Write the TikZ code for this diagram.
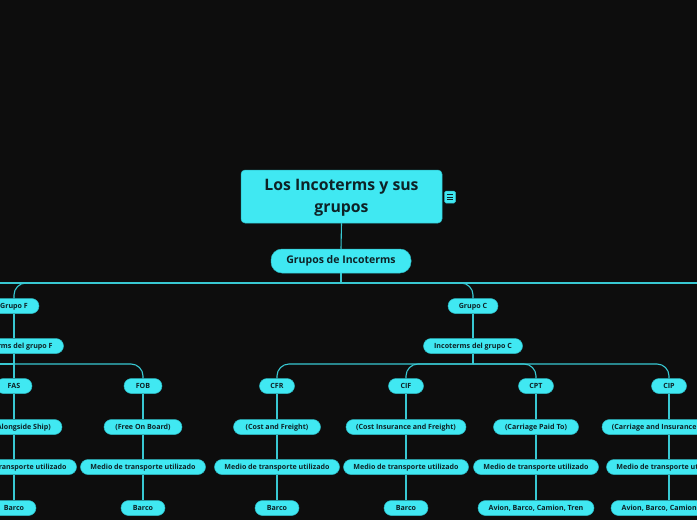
\documentclass[tikz,border=0pt]{standalone}
\usepackage{fontspec}
\setmainfont{Open Sans}
\definecolor{bg}{HTML}{0D0D0D}
\definecolor{nodefill}{HTML}{40E8F2}
\definecolor{nodeedge}{HTML}{2CB8C2}
\definecolor{conncol}{HTML}{38C8D2}
\definecolor{txt}{HTML}{0E2226}
\tikzset{
  box/.style={draw=nodeedge, line width=0.5pt, fill=nodefill, text=txt,
    font=\bfseries\fontsize{7.1}{8}\selectfont, rounded corners=7.5pt,
    minimum height=15pt, inner sep=0pt, align=center,
    text height=5.4pt, text depth=1.4pt},
  conn/.style={draw=conncol, line width=1.1pt},
  curvedconn/.style={conn, rounded corners=12pt},
}
\begin{document}
\begin{tikzpicture}[x=1pt,y=-1pt]
\useasboundingbox[fill=bg] (0,0) rectangle (697,520);
% root
\node[draw=nodeedge, fill=nodefill, line width=0.5pt, rounded corners=4pt,
  minimum width=201pt, minimum height=53pt, inner sep=0pt] (root) at (341.5,196.5) {};
\node[text=txt, font=\bfseries\fontsize{15.8}{22}\selectfont, align=center, inner sep=0pt]
  (roottitle) at (341.5,197.5) {Los Incoterms y sus\\grupos};
\node[draw=nodeedge, fill=nodefill, line width=0.5pt, rounded corners=1.5pt,
  minimum width=11pt, minimum height=12pt, inner sep=0pt] (note) at (450,197) {};
\foreach \dy in {-2.8,0,2.8}
  \draw[txt, line width=0.9pt] ([xshift=2.5pt,yshift=\dy pt]note.west) -- ([xshift=-2.5pt,yshift=\dy pt]note.east);
\node[box, rounded corners=11pt, minimum width=140pt, minimum height=24pt,
  text height=7.8pt, text depth=2pt,
  font=\bfseries\fontsize{10.5}{12}\selectfont] (gi) at (341,261) {Grupos de Incoterms};
% groups
\node[box, minimum width=50pt] (gf) at (14,306) {Grupo F};
\node[box, minimum width=50pt] (gc) at (473,306) {Grupo C};
\node[box, minimum width=99pt] (igf) at (14,346) {Incoterms del grupo F};
\node[box, minimum width=99pt] (igc) at (473,346) {Incoterms del grupo C};
% codes
\node[box, minimum width=36pt] (fas) at (14,386) {FAS};
\node[box, minimum width=38pt] (fob) at (143,386) {FOB};
\node[box, minimum width=35pt] (cfr) at (277,386) {CFR};
\node[box, minimum width=35pt] (cif) at (406,386) {CIF};
\node[box, minimum width=35pt] (cpt) at (536,386) {CPT};
\node[box, minimum width=35pt] (cip) at (669,386) {CIP};
% descriptions
\node[box, minimum width=96pt] (dfas) at (14,427) {(Free Alongside Ship)};
\node[box, minimum width=78pt] (dfob) at (143,427) {(Free On Board)};
\node[box, minimum width=87pt] (dcfr) at (277,427) {(Cost and Freight)};
\node[box, minimum width=120pt] (dcif) at (406,427) {(Cost Insurance and Freight)};
\node[box, minimum width=85pt] (dcpt) at (536,427) {(Carriage Paid To)};
\node[box, minimum width=134pt] (dcip) at (669,427) {(Carriage and Insurance Paid To)};
% medio
\foreach \n/\x in {fas/14,fob/143,cfr/277,cif/406,cpt/536,cip/669}
  \node[box, minimum width=125pt] (m\n) at (\x,467) {Medio de transporte utilizado};
% transport
\node[box, minimum width=44pt] (tfas) at (14,508) {Barco};
\node[box, minimum width=44pt] (tfob) at (143,508) {Barco};
\node[box, minimum width=44pt] (tcfr) at (277,508) {Barco};
\node[box, minimum width=44pt] (tcif) at (406,508) {Barco};
\node[box, minimum width=116pt] (tcpt) at (536,508) {Avion, Barco, Camion, Tren};
\node[box, minimum width=116pt] (tcip) at (669,508) {Avion, Barco, Camion, Tren};
% junctions
\coordinate (hub) at (341,283);
\coordinate (hubL) at (0,283);
\coordinate (hubR) at (697,283);
\coordinate (jF) at (14,364);
\coordinate (jFL) at (0,364);
\coordinate (jC) at (473,364);
% connectors
\draw[conn] (root.south) -- (gi.north);
\draw[conn] (gi.south) -- (hub);
\draw[conn] (hubL) -- (hubR);
\draw[curvedconn] (hub) -| (gf.north);
\draw[curvedconn] (hub) -| (gc.north);
\draw[conn] (gf.south) -- (igf.north);
\draw[conn] (gc.south) -- (igc.north);
\draw[conn] (igf.south) -- (fas.north);
\draw[conn] (jFL) -- (jF);
\draw[curvedconn] (jF) -| (fob.north);
\draw[conn] (igc.south) -- (jC);
\foreach \n in {cfr,cif,cpt,cip}
  \draw[curvedconn] (jC) -| (\n.north);
\foreach \n in {fas,fob,cfr,cif,cpt,cip} {
  \draw[conn] (\n.south) -- (d\n.north);
  \draw[conn] (d\n.south) -- (m\n.north);
  \draw[conn] (m\n.south) -- (t\n.north);
}
\end{tikzpicture}
\end{document}
